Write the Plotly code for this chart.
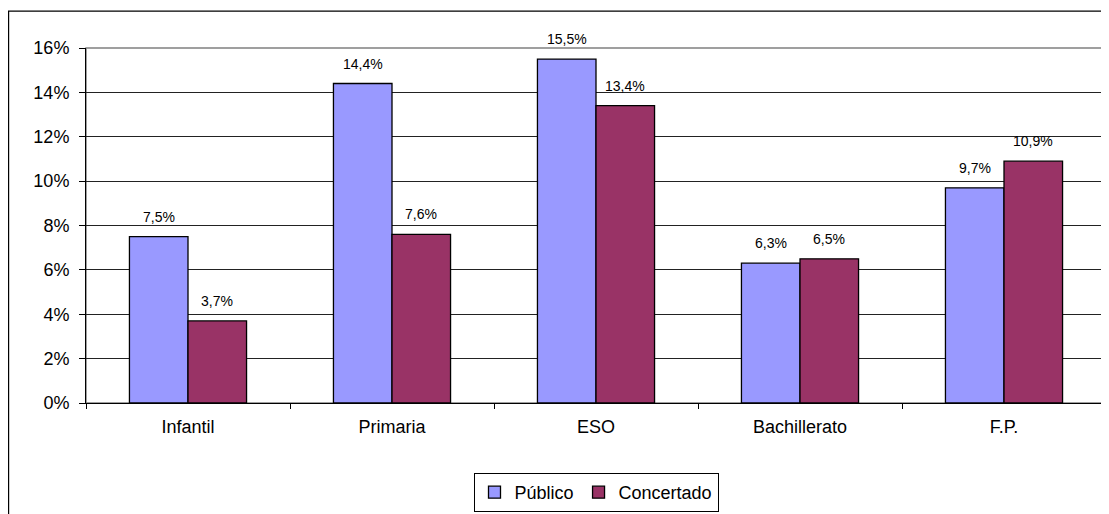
import plotly.graph_objects as go

categories = ["Infantil", "Primaria", "ESO", "Bachillerato", "F.P."]
publico = [7.5, 14.4, 15.5, 6.3, 9.7]
concertado = [3.7, 7.6, 13.4, 6.5, 10.9]
series_names = ["Público", "Concertado"]
y_ticks = [0, 2, 4, 6, 8, 10, 12, 14, 16]
y_tick_labels = ["0%", "2%", "4%", "6%", "8%", "10%", "12%", "14%", "16%"]

FONT = "Liberation Sans, Arial, sans-serif"
COLORS = ["#9999FF", "#993366"]

# page body has an 8px margin; the figure is sized so the drawing lands where the reference is
W, H = 1101, 506
ML, MR, MT, MB = 78, 3, 40, 110
PW, PH = W - ML - MR, H - MT - MB

fig = go.Figure()
for name, vals, col in zip(series_names, [publico, concertado], COLORS):
    fig.add_trace(go.Bar(
        name=name, x=categories, y=vals,
        marker=dict(color=col, line=dict(color="#000000", width=1.3)),
    ))

# data labels above each bar
bar_px = PW / len(categories) * (1 - 0.426) / 2
annotations = []
for i, vals in enumerate([publico, concertado]):
    shift = (-0.5 if i == 0 else 0.5) * bar_px
    for c, v in zip(categories, vals):
        annotations.append(dict(
            x=c, y=v, xref="x", yref="y", text=f"{v:.1f}%".replace(".", ","),
            showarrow=False, xanchor="center", yanchor="bottom",
            xshift=shift, yshift=10,
            font=dict(family=FONT, size=14, color="#000"),
        ))

fig.update_layout(
    width=W, height=H,
    margin=dict(l=ML, r=MR, t=MT, b=MB),
    paper_bgcolor="white", plot_bgcolor="white",
    barmode="group", bargap=0.426, bargroupgap=0,
    font=dict(family=FONT, size=18, color="#000"),
    showlegend=True,
    legend=dict(
        orientation="h", x=0.5, xanchor="center", y=(396 - 465) / PH, yanchor="top",
        bordercolor="#000", borderwidth=1, font=dict(size=18, family=FONT, color="#000"),
        itemwidth=30, tracegroupgap=0,
    ),
    xaxis=dict(
        showline=True, linecolor="#000", linewidth=1,
        ticks="outside", tickson="boundaries", ticklen=5, tickcolor="#000",
        ticklabelstandoff=7,
        tickfont=dict(size=18, family=FONT), showgrid=False,
    ),
    yaxis=dict(
        range=[0, 16], tickvals=y_ticks, ticktext=y_tick_labels,
        showline=True, linecolor="#000", linewidth=1,
        ticks="outside", ticklen=6, tickcolor="#000", ticklabelstandoff=6,
        showgrid=True, gridcolor="#222", gridwidth=1,
        tickfont=dict(size=18, family=FONT), zeroline=False,
    ),
    annotations=annotations,
    shapes=[
        dict(type="rect", xref="paper", yref="paper", x0=0, x1=1, y0=0, y1=1,
             line=dict(color="#808080", width=1.5), layer="below"),
        dict(type="rect", xref="paper", yref="paper",
             x0=(0.6 - ML) / PW, x1=1 + 20 / PW, y0=-(MB + 20) / PH, y1=1 + (MT - 3) / PH,
             line=dict(color="#000", width=1.2), layer="below"),
    ],
)

fig.write_html("out.html")
